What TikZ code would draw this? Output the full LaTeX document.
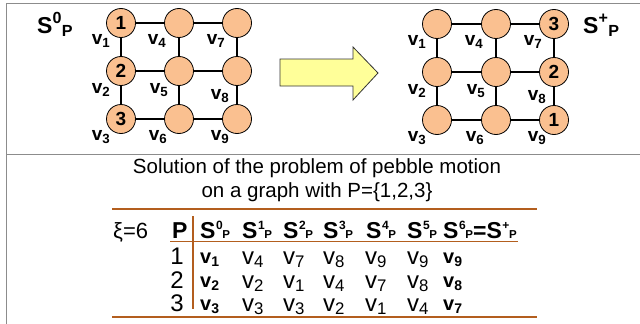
\documentclass[tikz,border=0pt]{standalone}
\usepackage{fontspec}
\setmainfont{Liberation Sans}
\usetikzlibrary{arrows.meta,positioning,calc}
\definecolor{Frame}{HTML}{8C8C8C}
\definecolor{Pebble}{HTML}{FAC090}
\definecolor{Shift}{HTML}{FFFF99}
\definecolor{Rule}{HTML}{B35E1E}
\newcommand{\supsub}[2]{\kern0.5pt\raisebox{9pt}{\fontsize{12}{12}\selectfont#1}\kern-0.3pt{\fontsize{11.5}{12}\selectfont#2}}

\begin{document}
\begin{tikzpicture}[x=1pt,y=-1pt,
 frame/.style={draw=Frame,line width=1.2pt},
 pebble/.style={circle,draw=black,line width=0.8pt,fill=Pebble,minimum size=29pt,inner sep=0pt,font=\fontsize{19}{19}\selectfont\bfseries},
 edge/.style={draw=black,line width=1.4pt},
 vname/.style={inner sep=0pt,font=\fontsize{19}{19}\selectfont\bfseries},
 state/.style={inner sep=0pt,anchor=base west,font=\fontsize{23}{23}\selectfont\bfseries},
 movearrow/.style={draw=black!80,line width=0.8pt,fill=Shift},
 title/.style={inner sep=0pt,align=center,font=\fontsize{20.5}{24}\selectfont},
 hd/.style={inner sep=0pt,anchor=base west,font=\fontsize{23}{24}\selectfont\bfseries},
 num/.style={inner sep=0pt,anchor=base east,font=\fontsize{24}{24}\selectfont},
 cell/.style={inner sep=0pt,anchor=base west,font=\fontsize{24}{24}\selectfont},
 bcell/.style={inner sep=0pt,anchor=base west,font=\fontsize{20}{20}\selectfont\bfseries},
 bigrule/.style={draw=Rule,line width=2.6pt},
 smallrule/.style={draw=Rule,line width=1.4pt}
]
\useasboundingbox (0,0) rectangle (640,324);
% frame
\draw[frame] (6.5,324) -- (6.5,3.5) -- (640,3.5);
\draw[frame] (6.5,154.5) -- (640,154.5);

% start configuration
\foreach \i/\x/\y/\t in {1/121/23/1,2/121/71/2,3/121/119/3,4/179/23/,5/179/71/,6/179/119/,7/237/23/,8/237/71/,9/237/119/}
  \node[pebble] (L\i) at (\x,\y) {\t};
% goal configuration
\foreach \i/\x/\y/\t in {1/437/24/,2/437/72/,3/437/120/,4/496/24/,5/496/72/,6/496/120/,7/554/24/3,8/554/72/2,9/554/120/1}
  \node[pebble] (R\i) at (\x,\y) {\t};
\foreach \a/\b in {1/4,4/7,2/5,5/8,3/6,6/9,1/2,2/3,4/5,5/6,7/8,8/9}{
  \draw[edge] (L\a) -- (L\b);
  \draw[edge] (R\a) -- (R\b);
}
\foreach \i/\dx/\dy in {1/-20/18,2/-20/19,3/-20/18,4/-22/18,5/-20/19,6/-21/18,7/-21/18,8/-17/25,9/-17/18}{
  \node[vname] (Lv\i) at ($(L\i)+(\dx,\dy)$) {v\textsubscript{\i}};
  \node[vname] (Rv\i) at ($(R\i)+(\dx,\dy)$) {v\textsubscript{\i}};
}
\node[state] (S0) at (37,33) {S\textsuperscript{0}\textsubscript{P}};
\node[state] (Splus) at (583,33) {S\textsuperscript{+}\textsubscript{P}};

% move arrow
\path[movearrow] (280,59) -- (353,59) -- (353,47) -- (378,73) -- (353,100) -- (353,86) -- (280,86) -- cycle;

% solution table
\node[title] (caption) at (317,180) {Solution of the problem of pebble motion\\on a graph with P=\{1,2,3\}};
\draw[bigrule] (112,209) -- (537,209);
\draw[bigrule] (112,317) -- (537,317);
\draw[smallrule] (170,241.5) -- (518,241.5);
\draw[smallrule] (193,216) -- (193,309);
\node[cell,font=\fontsize{22}{22}\selectfont] (xi) at (113,238) {ξ=6};
\node[hd] (hP) at (172,238) {P};
\foreach \x/\k in {200/0,242/1,283/2,323/3,366/4,407/5}
  \node[hd] (h\k) at (\x,238) {S\supsub{\k}{P}};
\node[hd] (h6) at (443,238) {S\supsub{6}{P}=S\supsub{+}{P}};
% rows: pebble 1, 2, 3
\node[num] (n1) at (184,264) {1};
\node[bcell] (a1) at (200,263) {v\textsubscript{1}};
\foreach \x/\k in {242/4,283/7,323/8,365/9,407/9}
  \node[cell] (a\x) at (\x,264) {v\textsubscript{\k}};
\node[bcell] (z1) at (443,263) {v\textsubscript{9}};
\node[num] (n2) at (184,288) {2};
\node[bcell] (a2) at (200,287) {v\textsubscript{2}};
\foreach \x/\k in {242/2,283/1,323/4,365/7,407/8}
  \node[cell] (b\x) at (\x,288) {v\textsubscript{\k}};
\node[bcell] (z2) at (443,287) {v\textsubscript{8}};
\node[num] (n3) at (184,311) {3};
\node[bcell] (a3) at (200,310) {v\textsubscript{3}};
\foreach \x/\k in {242/3,283/3,323/2,365/1,407/4}
  \node[cell] (c\x) at (\x,311) {v\textsubscript{\k}};
\node[bcell] (z3) at (443,310) {v\textsubscript{7}};
\end{tikzpicture}
\end{document}
